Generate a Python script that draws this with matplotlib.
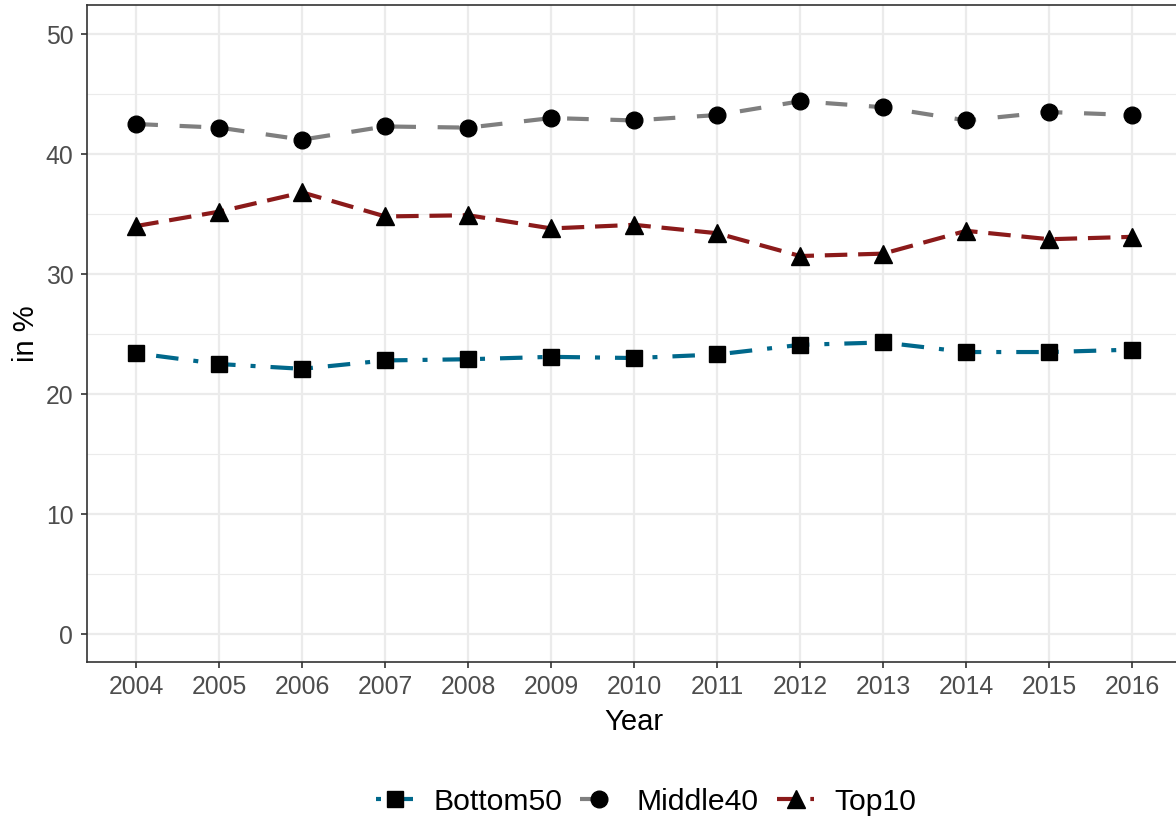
import numpy as np
import matplotlib
matplotlib.use("Agg")
import matplotlib.pyplot as plt
from matplotlib.ticker import MultipleLocator

plt.rcParams['font.family'] = ['Liberation Sans', 'DejaVu Sans']

years = [2004, 2005, 2006, 2007, 2008, 2009, 2010, 2011, 2012, 2013, 2014, 2015, 2016]
bottom50 = [23.4, 22.5, 22.1, 22.8, 22.9, 23.1, 23.0, 23.3, 24.1, 24.3, 23.5, 23.5, 23.7]
middle40 = [42.5, 42.2, 41.2, 42.3, 42.2, 43.0, 42.8, 43.25, 44.4, 43.9, 42.8, 43.5, 43.25]
top10 = [34.0, 35.2, 36.8, 34.8, 34.9, 33.8, 34.1, 33.4, 31.5, 31.7, 33.6, 32.9, 33.1]

fig = plt.figure(figsize=(11.76, 8.21), dpi=100)
# panel box (right edge runs just past the figure, as in the original)
ax = fig.add_axes([86.5/1176, 1 - 662/821, 1095.5/1176, 657/821])

lw = 3.0
ax.plot(years, bottom50, color='#00688B', lw=lw, dashes=(1.2, 3.6, 5.4, 3.6),
        marker='s', ms=11, mfc='black', mec='black', label='Bottom50', zorder=3)
ax.plot(years, middle40, color='#7F7F7F', lw=lw, dashes=(5.2, 5.2),
        marker='o', ms=12, mfc='black', mec='black', label='Middle40', zorder=3)
ax.plot(years, top10, color='#8B1A1A', lw=lw, dashes=(5.4, 2.6),
        marker='^', ms=13, mfc='black', mec='black', label='Top10', zorder=3)

ax.set_xlim(2003.4, 2016.6)
ax.set_ylim(-2.33, 52.42)
ax.set_xticks(years)
ax.yaxis.set_major_locator(MultipleLocator(10))
ax.yaxis.set_minor_locator(MultipleLocator(5))
ax.grid(which='major', color='#EBEBEB', lw=1.6)
ax.grid(which='minor', axis='y', color='#EBEBEB', lw=0.8)
ax.set_axisbelow(True)
ax.tick_params(which='minor', length=0)
ax.tick_params(which='major', length=4.5, width=1.2, color='#333333',
               labelcolor='#4D4D4D', labelsize=17.8, pad=5)
for s in ax.spines.values():
    s.set_color('#333333')
    s.set_linewidth(1.2)

ax.set_xlabel('Year', fontsize=21, labelpad=6)
ax.set_ylabel('in %', fontsize=21, labelpad=4)

leg = fig.legend(loc='center', bbox_to_anchor=(646/1176, 1 - 802/821), ncol=3,
                 frameon=False, fontsize=21.7, handlelength=1.23,
                 columnspacing=0.6, handletextpad=0.66)

fig.savefig('out.png', dpi=100)
